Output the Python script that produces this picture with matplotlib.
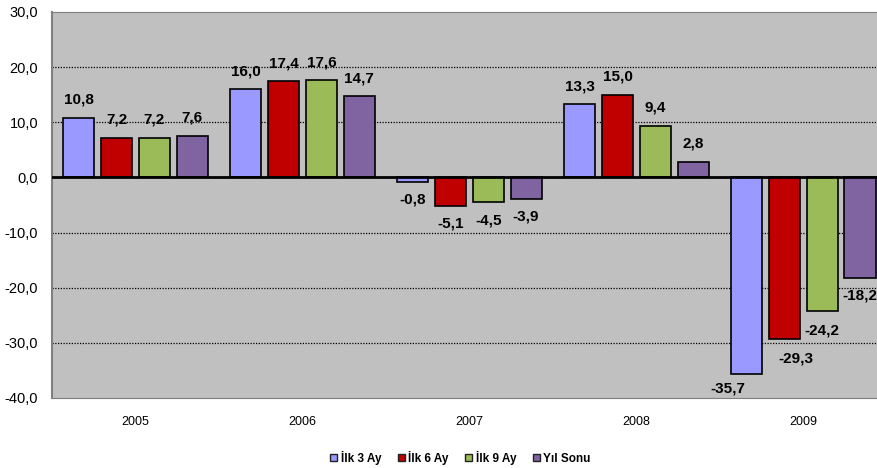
import numpy as np
import matplotlib.pyplot as plt
from matplotlib.ticker import FuncFormatter
from matplotlib.patches import Patch

plt.rcParams["font.family"] = ["Liberation Sans", "DejaVu Sans"]

years = ["2005", "2006", "2007", "2008", "2009"]
series = ["İlk 3 Ay", "İlk 6 Ay", "İlk 9 Ay", "Yıl Sonu"]
ilk3 = [10.8, 16.0, -0.8, 13.3, -35.7]
ilk6 = [7.2, 17.4, -5.1, 15.0, -29.3]
ilk9 = [7.2, 17.6, -4.5, 9.4, -24.2]
yil_sonu = [7.6, 14.7, -3.9, 2.8, -18.2]
values = [ilk3, ilk6, ilk9, yil_sonu]
colors = ["#9999FF", "#C00000", "#9BBB59", "#8064A2"]


def tr(v):
    return ("%.1f" % v).replace(".", ",")


fig = plt.figure(figsize=(8.77, 4.68), dpi=100)
# çizim alanı sağda figürün dışına taşıyor (orijinal grafikte de kesik)
ax = fig.add_axes([0.0593, 0.1496, 0.952, 0.8248])
ax.set_facecolor("#C0C0C0")

x = np.arange(len(years))
step = 0.226
width = 0.186
# 2009 etiketleri Excel'deki gibi kaydırılmış (nokta cinsinden)
shift_2009 = [(-14, -10), (8, -14), (0, -14), (0, -13)]
for k, (vals, col) in enumerate(zip(values, colors)):
    xs = x + (k - 1.5) * step
    ax.bar(xs, vals, width, color=col, edgecolor="black", linewidth=1.2, zorder=3)
    for j, (xi, v) in enumerate(zip(xs, vals)):
        if j == 4:
            dx, dy = shift_2009[k]
        else:
            dx, dy = 0, (13 if v >= 0 else -13)
        ax.annotate(tr(v), (xi, v), xytext=(dx, dy), textcoords="offset points",
                    ha="center", va="center", fontsize=11, fontweight="bold",
                    zorder=5, annotation_clip=False)

ax.set_xlim(-0.5, len(years) - 0.5)
ax.set_ylim(-40, 30)
ax.set_yticks(np.arange(-40, 31, 10))
ax.yaxis.set_major_formatter(FuncFormatter(lambda v, p: tr(v)))
ax.set_xticks(x)
ax.set_xticklabels(years)
ax.tick_params(axis="y", length=0, labelsize=10.5, pad=10)
ax.tick_params(axis="x", length=0, labelsize=9, pad=13)

for yv in [-30, -20, -10, 10, 20]:
    ax.axhline(yv, color="black", linestyle=(0, (1, 1.2)), linewidth=0.9, zorder=1)
ax.axhline(0, color="black", linewidth=2, zorder=4)

for side in ["top", "bottom", "right"]:
    ax.spines[side].set_color("#808080")
    ax.spines[side].set_linestyle((0, (1, 0.6)))
ax.spines["left"].set_color("#808080")
ax.spines["left"].set_linewidth(1.5)

handles = [Patch(facecolor=c, edgecolor="#222222", linewidth=1) for c in colors]
fig.legend(handles, series, loc="center", bbox_to_anchor=(0.525, 0.022), ncol=4,
           frameon=False, handlelength=0.6, handleheight=0.6, handletextpad=0.3,
           columnspacing=1.4, prop={"weight": "bold", "size": 8.5})

fig.savefig("out.png", dpi=100)
